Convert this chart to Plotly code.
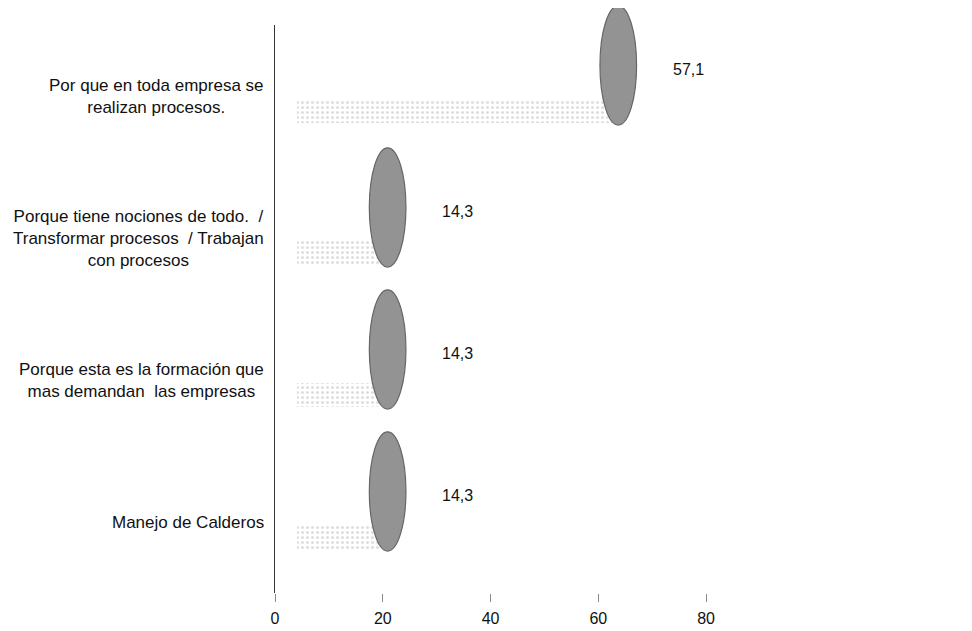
import plotly.graph_objects as go

# ---- data ----
categories = [
    "Por que en toda empresa se<br>realizan procesos.",
    "Porque tiene nociones de todo.  /<br>Transformar procesos  / Trabajan<br>con procesos",
    "Porque esta es la formación que<br>mas demandan  las empresas",
    "Manejo de Calderos",
]
values = [57.1, 14.3, 14.3, 14.3]
x_ticks = [0, 20, 40, 60, 80]

# ---- style constants (3D projection look) ----
DEPTH_X = 6.6        # horizontal shift of the cylinder cap (data units)
DEPTH_Y = -0.215     # vertical shift of the cylinder cap (category units)
CAP_HALF_W = 3.4
CAP_HALF_H = 0.42
FLOOR_START = 4.0
FLOOR_Y = 0.105
LABEL_SHIFT = 19.6
FONT = "Liberation Sans, Arial, sans-serif"

pos = list(range(len(categories)))
Y_TOP, Y_BOTTOM = -0.5, len(categories) - 0.5


def to_paper(yv):
    # category position -> paper fraction (reversed axis)
    return (Y_BOTTOM - yv) / (Y_BOTTOM - Y_TOP)


fig = go.Figure()

# faint stippled "floor" of each cylinder
fig.add_trace(go.Bar(
    orientation="h",
    y=[p + FLOOR_Y for p in pos],
    x=[v + DEPTH_X - FLOOR_START for v in values],
    base=[FLOOR_START] * len(values),
    width=0.17,
    marker=dict(
        color="rgba(255,255,255,0)",
        line=dict(width=0),
        pattern=dict(shape=".", fgcolor="#bdbdbd", bgcolor="rgba(255,255,255,0)",
                     size=5, solidity=0.3),
    ),
    hoverinfo="skip",
    showlegend=False,
))

# cylinder end caps (ellipses) placed from the values
for p, v in zip(pos, values):
    fig.add_shape(
        type="circle", xref="x", yref="paper",
        x0=v + DEPTH_X - CAP_HALF_W, x1=v + DEPTH_X + CAP_HALF_W,
        y0=to_paper(p + DEPTH_Y + CAP_HALF_H), y1=to_paper(p + DEPTH_Y - CAP_HALF_H),
        fillcolor="#939393", line=dict(color="#666666", width=1.2),
        layer="above",
    )

# value labels
for p, v in zip(pos, values):
    fig.add_annotation(
        x=v + LABEL_SHIFT, y=p + DEPTH_Y + 0.03, xref="x", yref="y",
        text=f"{v:.1f}".replace(".", ","), showarrow=False,
        font=dict(family=FONT, size=16, color="#111"),
    )

# category labels (centered multi-line)
for p, c in zip(pos, categories):
    fig.add_annotation(
        x=0, y=p, xref="paper", yref="y", xanchor="right", yanchor="middle",
        xshift=-9, align="center", text=c, showarrow=False,
        font=dict(family=FONT, size=17, color="#111"),
    )

fig.update_layout(
    width=972, height=631,
    margin=dict(l=267, r=220, t=17, b=42),
    paper_bgcolor="white", plot_bgcolor="white",
    bargap=0,
    font=dict(family=FONT, size=16, color="#111"),
    xaxis=dict(
        range=[0, 90], tickvals=x_ticks, ticktext=[str(t) for t in x_ticks],
        showgrid=False, zeroline=False, showline=False,
        ticks="outside", ticklen=8, tickcolor="#888", tickwidth=1,
        ticklabelstandoff=3,
        tickfont=dict(family=FONT, size=16, color="#111"),
    ),
    yaxis=dict(
        range=[Y_BOTTOM, Y_TOP],
        showticklabels=False, showgrid=False, zeroline=False,
        showline=True, linecolor="#333", linewidth=1.2, ticks="",
    ),
)

fig.write_html("out.html")
